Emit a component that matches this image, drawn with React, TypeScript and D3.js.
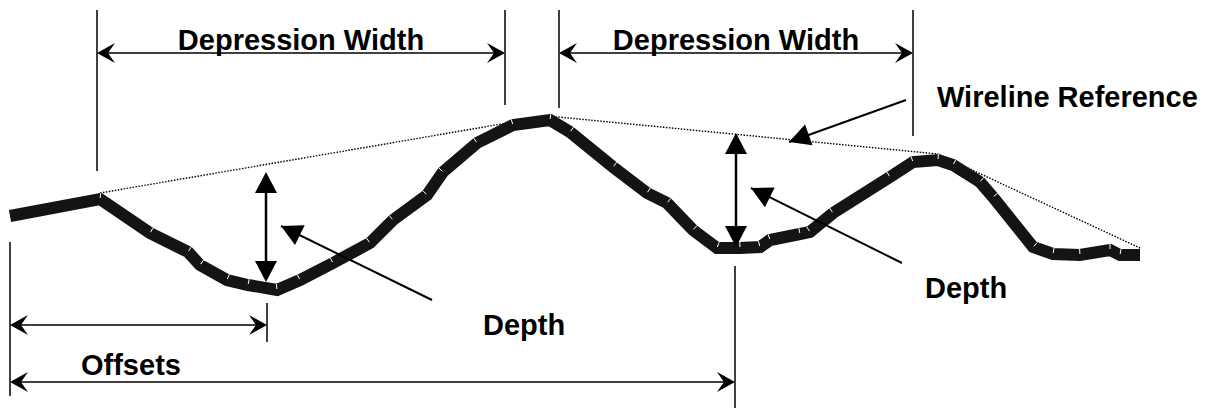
import React from 'react';
import * as d3 from 'd3';

// profile stations (distance along the section) and surface elevation
const profileDist = [0, 9, 14, 17.8, 19, 21.7, 23.8, 26.7, 29, 32.3, 36, 38.3, 41.7, 43.3, 46.7, 50.3, 54, 56, 60.3, 63.7, 65.7, 68.3, 70.7, 73, 75, 76, 79, 80, 82.3, 88, 90.3, 92.8, 94.3, 97, 98.3, 102.3, 104.3, 107, 110, 111, 113];
const profileElev = [8.4, 10.1, 6.7, 4.8, 3.5, 2, 1.5, 1, 2, 3.7, 5.7, 8, 10.5, 12.8, 15.7, 17.5, 18, 16.8, 13.3, 10.7, 9.7, 7, 5.2, 5.2, 5.3, 6, 6.6, 6.8, 8.7, 12.3, 13.8, 14, 13.5, 11.8, 10.3, 5.3, 4.6, 4.5, 5, 4.5, 4.5];

// wireline reference stretched over the crests
const wireDist = [9, 53.8, 92.8, 97.5, 113];
const wireElev = [10.7, 18.4, 14.6, 12.4, 5.2];

// depression edges (start, end)
const depressions = [[8.7, 49.5], [54.9, 90.3]];
// depth measurements: station, top, bottom
const depthStation = [25.6, 72.6];
const depthTop = [12.8, 16.7];
const depthBottom = [1.8, 5.3];
// offsets measured from the section start
const offsetStations = [25.7, 72.5];

const W = 1211;
const H = 410;
const font = '"Liberation Sans", Arial, Helvetica, sans-serif';

const x = d3.scaleLinear().domain([0, 120]).range([10, 1210]);
const y = d3.scaleLinear().domain([0, 30]).range([300, 0]);

// barbed arrowhead, tip at origin, pointing along +x
const barb = 'M0,0 L-18,-10 L-11,0 L-18,10 Z';
const tri = 'M0,0 L-21,-11 L-21,11 Z';

function Head({ x0, y0, angle, d }: { x0: number; y0: number; angle: number; d: string }) {
  return <path d={d} transform={`translate(${x0},${y0}) rotate(${angle})`} fill="#000" />;
}

function DimLine({ x1, x2, yy }: { x1: number; x2: number; yy: number }) {
  return (
    <g>
      <line x1={x1 + 8} x2={x2 - 8} y1={yy} y2={yy} stroke="#000" strokeWidth={1.6} />
      <Head x0={x1} y0={yy} angle={180} d={barb} />
      <Head x0={x2} y0={yy} angle={0} d={barb} />
    </g>
  );
}

function Pointer({ from, to }: { from: [number, number]; to: [number, number] }) {
  const ang = (Math.atan2(to[1] - from[1], to[0] - from[0]) * 180) / Math.PI;
  return (
    <g>
      <line x1={from[0]} y1={from[1]} x2={to[0]} y2={to[1]} stroke="#000" strokeWidth={2} />
      <Head x0={to[0]} y0={to[1]} angle={ang} d={tri} />
    </g>
  );
}

export default function App() {
  const pts = profileDist.map((d, i) => [x(d), y(profileElev[i])] as [number, number]);
  const profile = d3.line<[number, number]>()(pts) || '';
  const wire = d3.line<number>().x((d) => x(d)).y((_, i) => y(wireElev[i]));
  const textStyle = { fontFamily: font, fontWeight: 700, fontSize: 29 } as const;

  // small white seams at each joint, starting from the upper edge
  const seams = pts.slice(1, -1).map((p, k) => {
    const a = pts[k];
    const b = pts[k + 2];
    const dx = b[0] - a[0];
    const dy = b[1] - a[1];
    const len = Math.hypot(dx, dy) || 1;
    let nx = -dy / len;
    let ny = dx / len;
    if (ny > 0) { nx = -nx; ny = -ny; }
    return { x1: p[0] + nx * 6, y1: p[1] + ny * 6, x2: p[0] + nx * 1, y2: p[1] + ny * 1 };
  });

  return (
    <svg width={W} height={H} style={{ position: 'absolute', left: 0, top: 0, background: '#fff' }}>
      {/* wireline reference */}
      <path d={wire(wireDist) || ''} fill="none" stroke="#000" strokeWidth={1.4} strokeDasharray="1.5,1.5" />

      {/* profile */}
      <path d={profile} fill="none" stroke="#141414" strokeWidth={12} strokeLinejoin="miter" strokeMiterlimit={3} />
      {seams.map((s, i) => (
        <line key={i} {...s} stroke="#fff" strokeWidth={1} />
      ))}

      {/* depression width extension lines and dimensions */}
      {depressions.map(([a, b], i) => (
        <g key={i}>
          <line x1={x(a)} x2={x(a)} y1={10} y2={i === 0 ? 171 : 108} stroke="#000" strokeWidth={1.5} />
          <line x1={x(b)} x2={x(b)} y1={10} y2={i === 0 ? 105 : 136} stroke="#000" strokeWidth={1.5} />
          <DimLine x1={x(a)} x2={x(b)} yy={53} />
          <text x={(x(a) + x(b)) / 2} y={50} textAnchor="middle" style={textStyle}>Depression Width</text>
        </g>
      ))}

      {/* depth arrows */}
      {depthStation.map((s, i) => (
        <g key={i}>
          <line x1={x(s)} x2={x(s)} y1={y(depthTop[i]) + 12} y2={y(depthBottom[i]) - 12} stroke="#000" strokeWidth={2.5} />
          <Head x0={x(s)} y0={y(depthTop[i])} angle={-90} d={tri} />
          <Head x0={x(s)} y0={y(depthBottom[i])} angle={90} d={tri} />
        </g>
      ))}

      {/* pointers */}
      <Pointer from={[432, 300]} to={[281, 226]} />
      <Pointer from={[902, 263]} to={[751, 188]} />
      <Pointer from={[906, 100]} to={[789, 142]} />

      {/* offsets */}
      <line x1={x(0)} x2={x(0)} y1={242} y2={396} stroke="#000" strokeWidth={1.5} />
      <line x1={x(offsetStations[0])} x2={x(offsetStations[0])} y1={303} y2={342} stroke="#000" strokeWidth={1.5} />
      <line x1={x(offsetStations[1])} x2={x(offsetStations[1])} y1={266} y2={408} stroke="#000" strokeWidth={1.5} />
      <DimLine x1={x(0)} x2={x(offsetStations[0])} yy={325} />
      <DimLine x1={x(0)} x2={x(offsetStations[1])} yy={382} />

      <text x={937} y={107} style={textStyle}>Wireline Reference</text>
      <text x={483} y={335} style={textStyle}>Depth</text>
      <text x={925} y={298} style={textStyle}>Depth</text>
      <text x={81} y={375} style={textStyle}>Offsets</text>
    </svg>
  );
}
